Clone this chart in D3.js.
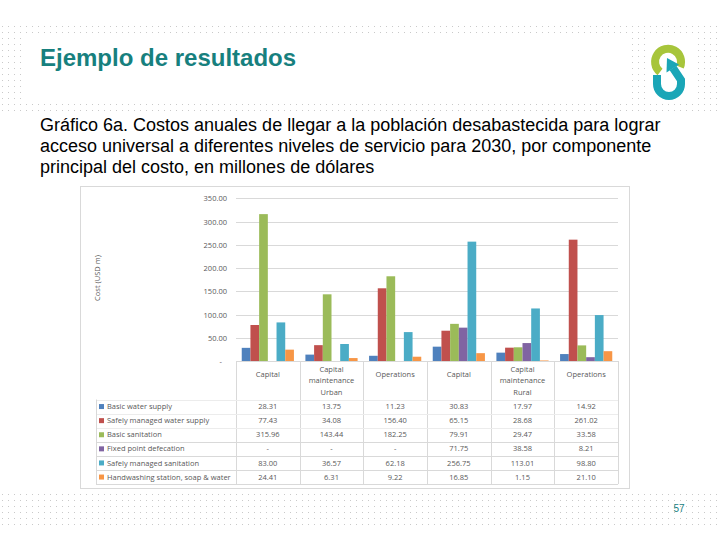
<!DOCTYPE html>
<html>
<head>
<meta charset="utf-8">
<script src="https://cdn.jsdelivr.net/npm/d3@7"></script>
<style>
  body { margin: 0; background: #fff; }
  svg { display: block; }
</style>
</head>
<body>
<svg id="slide" width="720" height="540"></svg>
<script>
// chart data
var groups = ["Capital", "Capital maintenance", "Operations", "Capital", "Capital maintenance", "Operations"];
var areas = ["Urban", "Rural"];
var seriesNames = ["Basic water supply", "Safely managed water supply", "Basic sanitation",
  "Fixed point defecation", "Safely managed sanitation", "Handwashing station, soap & water"];
var basicWater = [28.31, 13.75, 11.23, 30.83, 17.97, 14.92];
var safeWater = [77.43, 34.08, 156.40, 65.15, 28.68, 261.02];
var basicSanitation = [315.96, 143.44, 182.25, 79.91, 29.47, 33.58];
var fixedPoint = [null, null, null, 71.75, 38.58, 8.21];
var safeSanitation = [83.00, 36.57, 62.18, 256.75, 113.01, 98.80];
var handwashing = [24.41, 6.31, 9.22, 16.85, 1.15, 21.10];
var yTicks = [0, 50, 100, 150, 200, 250, 300, 350];

var seriesValues = [basicWater, safeWater, basicSanitation, fixedPoint, safeSanitation, handwashing];
var colors = ["#4f81bd", "#c0504d", "#9bbb59", "#8064a2", "#4bacc6", "#f79646"];

var teal = "#17807e";
var gray = "#595959";
var lineGray = "#d9d9d9";

var svg = d3.select("#slide");

// plot frame
var plotLeft = 236, plotRight = 618;
var yZero = 361, yTop = 198.3;
var rowTop = 399.5, rowH = 14.1;

var x0 = d3.scaleBand().domain(d3.range(groups.length)).range([plotLeft, plotRight]);
var x1 = d3.scaleBand().domain(d3.range(seriesNames.length)).range([0, x0.bandwidth()]).paddingOuter(0.66);
var y = d3.scaleLinear().domain([0, 350]).range([yZero, yTop]);
var fmt = d3.format(".2f");

function drawBackground(){
    var defs = svg.append("defs");
    var pat = defs.append("pattern")
    .attr("id", "dots")
    .attr("patternUnits", "userSpaceOnUse")
    .attr("width", 6)
    .attr("height", 6);
    pat.append("rect").attr("x", 2).attr("y", 2).attr("width", 1).attr("height", 1).attr("fill", "#c9c9c9");

    // dotted bands top and bottom
    svg.append("rect").attr("x", 0).attr("y", 25).attr("width", 720).attr("height", 89).attr("fill", "url(#dots)");
    svg.append("rect").attr("x", 0).attr("y", 490).attr("width", 720).attr("height", 37).attr("fill", "url(#dots)");
    // white boxes over the band
    svg.append("rect").attr("x", 22).attr("y", 37).attr("width", 607).attr("height", 67).attr("fill", "#fff");
    svg.append("rect").attr("x", 645).attr("y", 37).attr("width", 50).attr("height", 67).attr("fill", "#fff");
}

function drawLogo(){
    var logo = svg.append("g");
    // green upper ring, open at lower right
    logo.append("path")
    .attr("d", "M660,72 A13,13 0 1,1 680,67")
    .attr("fill", "none")
    .attr("stroke", "#a7c53b")
    .attr("stroke-width", 8);
    // teal lower hook with arrow
    logo.append("path")
    .attr("d", "M657,75 L657,84 A12,12 0 0,0 681,84 L681,80 L673,68")
    .attr("fill", "none")
    .attr("stroke", "#1aa6b7")
    .attr("stroke-width", 8);
    logo.append("path")
    .attr("d", "M667,58 L679,64.5 L666.5,72.5 Z")
    .attr("fill", "#1aa6b7");
}

function drawHeader(){
    svg.append("text")
    .attr("x", 40).attr("y", 66)
    .style("font-family", "Liberation Sans, Arial, sans-serif")
    .style("font-weight", "bold")
    .style("font-size", "24px")
    .style("fill", teal)
    .text("Ejemplo de resultados");

    var lines = ["Gráfico 6a. Costos anuales de llegar a la población desabastecida para lograr",
      "acceso universal a diferentes niveles de servicio para 2030, por componente",
      "principal del costo, en millones de dólares"];
    svg.append("g").selectAll("text")
    .data(lines)
    .enter()
    .append("text")
    .attr("x", 40)
    .attr("y", function(d, i){return 131 + i * 21;})
    .style("font-family", "Liberation Sans, Arial, sans-serif")
    .style("font-size", "18px")
    .style("fill", "#000")
    .text(function(d){return d;});

    drawLogo();

    svg.append("text")
    .attr("x", 679).attr("y", 512)
    .attr("text-anchor", "middle")
    .style("font-family", "Liberation Sans, Arial, sans-serif")
    .style("font-size", "10px")
    .style("fill", teal)
    .text("57");
}

function drawChart(){
    // chart frame
    svg.append("rect")
    .attr("x", 80.5).attr("y", 186.5)
    .attr("width", 549).attr("height", 302)
    .attr("fill", "#fff")
    .attr("stroke", lineGray);

    // gridlines + tick labels
    var grid = svg.append("g").selectAll("g")
    .data(yTicks)
    .enter()
    .append("g")
    .attr("transform", function(d){return "translate(0," + (Math.round(y(d)) + 0.5) + ")";});
    grid.append("line")
    .attr("x1", plotLeft).attr("x2", plotRight)
    .attr("stroke", lineGray);
    grid.append("text")
    .attr("x", function(d){return d === 0 ? 222 : 227;})
    .attr("dy", "0.35em")
    .attr("text-anchor", "end")
    .style("font-family", "Open Sans, sans-serif")
    .style("font-size", "7.5px")
    .style("fill", gray)
    .text(function(d){return d === 0 ? "-" : fmt(d);});

    svg.append("text")
    .attr("transform", "translate(100,278) rotate(-90)")
    .attr("text-anchor", "middle")
    .style("font-family", "Open Sans, sans-serif")
    .style("font-size", "7.5px")
    .style("fill", gray)
    .text("Cost (USD m)");

    // bars
    var groupG = svg.append("g").selectAll("g")
    .data(groups)
    .enter()
    .append("g")
    .attr("transform", function(d, i){return "translate(" + x0(i) + ",0)";});
    groupG.selectAll("rect")
    .data(function(d, i){return seriesValues.map(function(s, k){return {k: k, v: s[i]};});})
    .enter()
    .append("rect")
    .filter(function(d){return d.v !== null;})
    .attr("x", function(d){return x1(d.k);})
    .attr("y", function(d){return y(d.v);})
    .attr("width", x1.bandwidth())
    .attr("height", function(d){return yZero - y(d.v);})
    .attr("fill", function(d){return colors[d.k];});
}

function drawTable(){
    var rowBottom = rowTop + rowH * seriesNames.length;
    var tbl = svg.append("g");

    // vertical column lines
    tbl.selectAll("line.col")
    .data(d3.range(groups.length + 1))
    .enter()
    .append("line")
    .attr("x1", function(d){return Math.round(plotLeft + x0.step() * d) + 0.5;})
    .attr("x2", function(d){return Math.round(plotLeft + x0.step() * d) + 0.5;})
    .attr("y1", yZero).attr("y2", rowBottom)
    .attr("stroke", lineGray);

    // row lines
    tbl.selectAll("line.row")
    .data(d3.range(seriesNames.length + 1))
    .enter()
    .append("line")
    .attr("x1", 96).attr("x2", plotRight)
    .attr("y1", function(d){return Math.round(rowTop + rowH * d) + 0.5;})
    .attr("y2", function(d){return Math.round(rowTop + rowH * d) + 0.5;})
    .attr("stroke", function(d){return d < 3 ? "#ececec" : lineGray;});
    tbl.append("line")
    .attr("x1", 96.5).attr("x2", 96.5)
    .attr("y1", rowTop).attr("y2", rowBottom)
    .attr("stroke", lineGray);

    // category headers
    var head = tbl.selectAll("text.cat")
    .data(groups)
    .enter()
    .append("text")
    .attr("x", function(d, i){return x0(i) + x0.bandwidth() / 2;})
    .attr("text-anchor", "middle")
    .style("font-family", "Open Sans, sans-serif")
    .style("font-size", "7.5px")
    .style("fill", gray);
    head.each(function(d){
        var words = d === "Capital maintenance" ? ["Capital", "maintenance"] : [d];
        var t = d3.select(this);
        words.forEach(function(w, j){
            t.append("tspan")
            .attr("x", t.attr("x"))
            .attr("y", words.length === 1 ? 377 : 372 + j * 11)
            .text(w);
        });
    });

    tbl.selectAll("text.area")
    .data(areas)
    .enter()
    .append("text")
    .attr("x", function(d, i){return x0(i * 3 + 1) + x0.bandwidth() / 2;})
    .attr("y", 395)
    .attr("text-anchor", "middle")
    .style("font-family", "Open Sans, sans-serif")
    .style("font-size", "7.5px")
    .style("fill", gray)
    .text(function(d){return d;});

    // series rows
    var rows = tbl.selectAll("g.srow")
    .data(seriesNames)
    .enter()
    .append("g")
    .attr("transform", function(d, i){return "translate(0," + (rowTop + rowH * i + rowH / 2) + ")";});
    rows.append("rect")
    .attr("x", 99).attr("y", -2.5)
    .attr("width", 5).attr("height", 5)
    .attr("fill", function(d, i){return colors[i];});
    rows.append("text")
    .attr("x", 107)
    .attr("dy", "0.35em")
    .style("font-family", "Open Sans, sans-serif")
    .style("font-size", "7.5px")
    .style("fill", gray)
    .text(function(d){return d;});
    rows.each(function(d, i){
        d3.select(this).selectAll("text.val")
        .data(seriesValues[i])
        .enter()
        .append("text")
        .attr("x", function(v, j){return x0(j) + x0.bandwidth() / 2;})
        .attr("dy", "0.35em")
        .attr("text-anchor", "middle")
        .style("font-family", "Open Sans, sans-serif")
        .style("font-size", "7.5px")
        .style("fill", gray)
        .text(function(v){return v === null ? "-" : fmt(v);});
    });
}

drawBackground();
drawHeader();
drawChart();
drawTable();
</script>
</body>
</html>
